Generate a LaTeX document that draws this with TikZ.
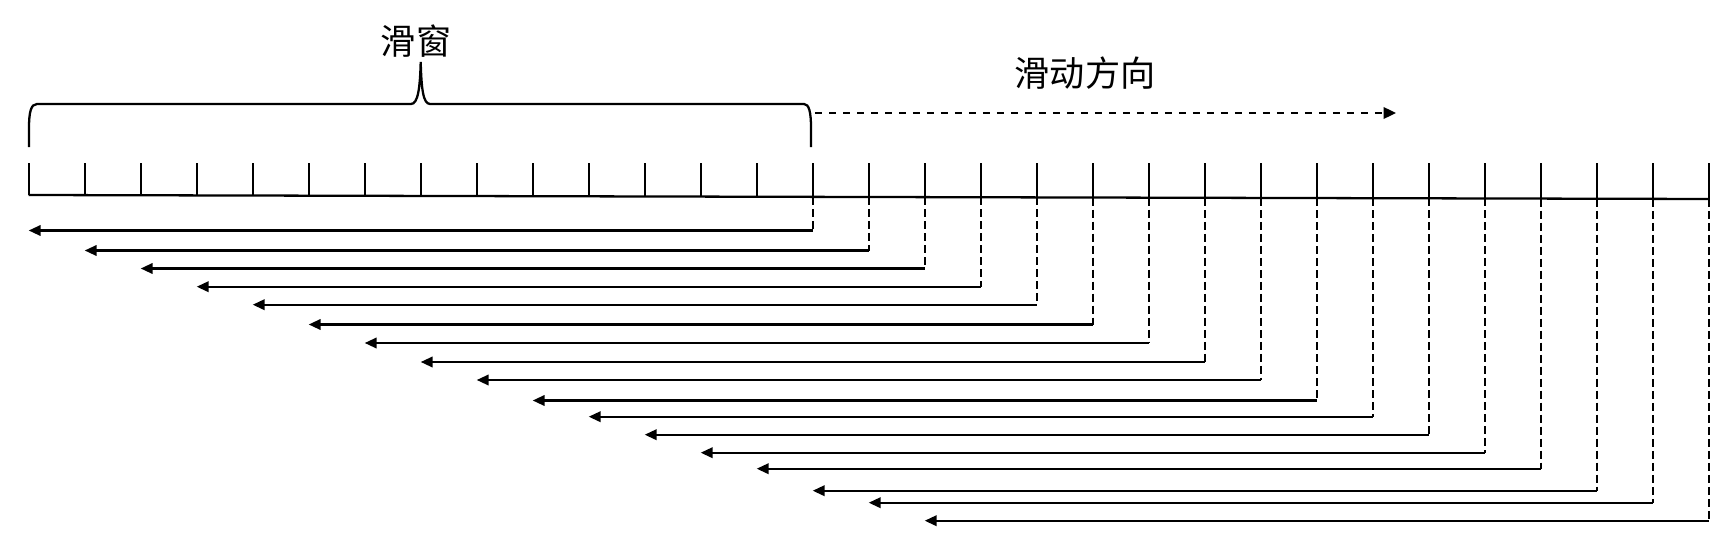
\documentclass[tikz,border=0pt]{standalone}
\usepackage{fontspec}
\newfontfamily\cjk{Noto Sans CJK SC}
\usetikzlibrary{arrows.meta}

\tikzset{
  dashline/.style={dash pattern=on 0.16cm off 0.08cm},
  backarrow/.style={-{Triangle[length=0.24cm,width=0.21cm]}},
  movearrow/.style={dash pattern=on 0.14cm off 0.14cm,-{Triangle[length=0.25cm,width=0.23cm]}}
}

\begin{document}
\begin{tikzpicture}
  [x=0.02cm,y=-0.02cm,line width=1.3pt,every node/.style={font=\cjk\fontsize{20}{20}\selectfont,inner sep=0pt}]
  \useasboundingbox (0,0) rectangle (1736,554);

  \foreach \i in {0,...,30} {
    \coordinate (t\i) at ({28.7+56*\i},163);
    \coordinate (b\i) at ({28.7+56*\i},{195+0.133*\i});
    \draw (t\i) -- (b\i);
  }
  \draw (b0) -- (b30);

  \foreach \y [count=\k from 0] in {230.5,250.5,268.5,286.7,304.7,324.5,343,362,380,400.5,416.7,434.7,452.7,468.7,490.7,502.7,520.7} {
    \pgfmathtruncatemacro\j{\k+14}
    \coordinate (r\k) at ({28.7+56*\j},\y);
    \coordinate (l\k) at ({28.7+56*\k},\y);
    \draw[dashline] (b\j) -- (r\k);
    \draw[backarrow] (r\k) -- (l\k);
  }

  \draw (29,147) -- (29,128) .. controls (29,112) and (31,104) .. (37,104) -- (411,104)
    .. controls (418,104) and (420,88) .. (420.7,62) .. controls (421.4,88) and (423,104) .. (430,104)
    -- (804,104) .. controls (809,104) and (811,112) .. (811,128) -- (811,147);

  \node (win) at (416,41) {滑窗};
  \node (dir) at (1085,73) {滑动方向};

  \coordinate (m0) at (815,113);
  \coordinate (m1) at (1396,113);
  \draw[movearrow] (m0) -- (m1);
\end{tikzpicture}
\end{document}
